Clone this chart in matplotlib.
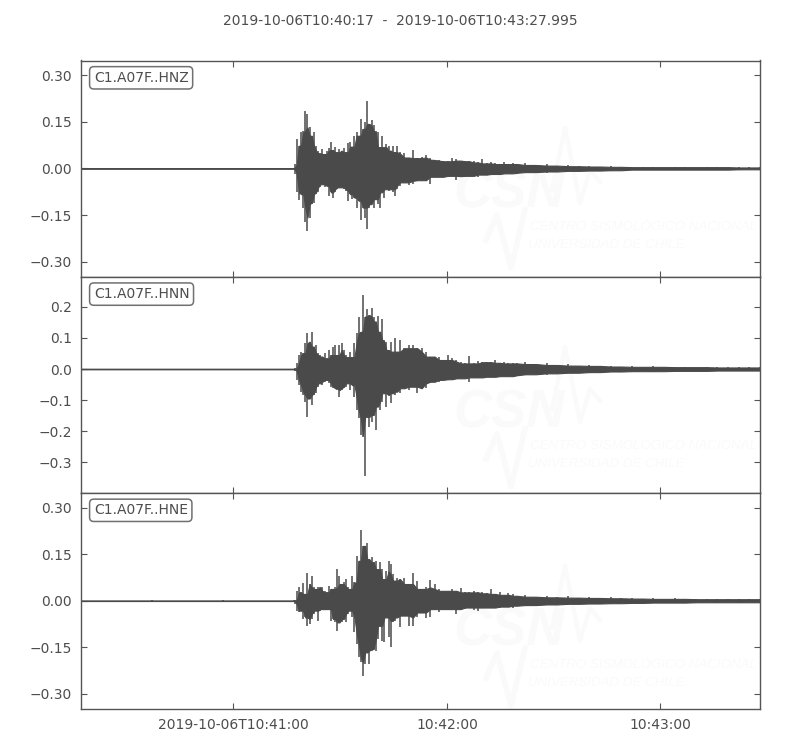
import numpy as np
import matplotlib
matplotlib.use('Agg')
import matplotlib.pyplot as plt

# seconds since 10:40:17, quiet part / strong part / coda / tail
t_pre = [0.0, 20.0, 40.0, 60.0]
t_main = np.arange(49) * 0.6 + 60.2
t_coda = np.arange(28) * 1.22 + 89.8
t_tail = np.arange(23) * 3.0 + 125.0
times = np.concatenate([t_pre, t_main, t_coda, t_tail])

quiet = [0.001, 0.001, 0.001, 0.001]

hnz_up = [.014,.095,.073,.116,.121,.186,.175,.132,.105,.116,.073,.057,.048,.062,.046,.057,.066,.084,.059,.070,.052,.062,.057,.066,.052,.081,.084,.070,.105,.116,.105,.159,.127,.148,.218,.143,.156,.138,.121,.116,.068,.105,.068,.078,.073,.057,.073,.052,.073,
          .052,.048,.035,.059,.033,.038,.044,.035,.028,.027,.025,.023,.033,.029,.025,.025,.023,.023,.019,.030,.016,.019,.016,.014,.019,.014,.016,.014,
          .016,.011,.013,.009,.011,.007,.009,.006,.007,.005,.006,.004,.006,.004,.005,.004,.006,.004,.005,.004,.005,.003,.004]
hnz_low = [.018,.077,.102,.083,.126,.174,.201,.158,.115,.110,.083,.077,.061,.051,.059,.056,.088,.077,.094,.077,.067,.061,.061,.067,.072,.104,.083,.099,.094,.126,.104,.167,.126,.158,.196,.126,.115,.126,.099,.115,.126,.077,.094,.067,.072,.067,.077,.088,.067,
           .056,.045,.053,.051,.040,.038,.042,.051,.027,.027,.029,.027,.024,.038,.029,.025,.024,.024,.027,.020,.020,.020,.018,.018,.018,.016,.016,.018,
           .014,.012,.014,.010,.011,.008,.009,.007,.007,.006,.006,.004,.005,.004,.005,.004,.005,.004,.005,.004,.004,.003,.004]

hnn_up = [.002,.018,.045,.056,.051,.083,.115,.088,.120,.072,.077,.051,.045,.040,.051,.034,.061,.045,.072,.077,.045,.077,.083,.061,.045,.038,.056,.038,.083,.115,.169,.120,.239,.169,.192,.174,.196,.169,.153,.171,.120,.160,.094,.088,.061,.088,.056,.099,.056,
          .094,.067,.077,.077,.067,.067,.056,.040,.040,.040,.029,.045,.034,.029,.024,.018,.042,.018,.026,.024,.022,.024,.029,.020,.024,.018,.018,.018,
          .021,.016,.018,.013,.015,.011,.013,.010,.011,.008,.010,.007,.009,.007,.008,.006,.008,.006,.008,.005,.007,.005,.006]
hnn_low = [.005,.035,.052,.073,.084,.105,.156,.095,.116,.084,.078,.057,.046,.052,.041,.035,.046,.057,.062,.062,.068,.089,.068,.062,.057,.046,.068,.052,.089,.132,.159,.213,.218,.345,.154,.186,.170,.148,.197,.121,.132,.105,.078,.121,.084,.111,.078,.084,.073,
           .078,.062,.068,.057,.078,.062,.062,.046,.041,.041,.035,.035,.033,.033,.030,.030,.041,.027,.030,.028,.027,.025,.027,.025,.023,.023,.023,.023,
           .020,.017,.018,.014,.014,.012,.013,.010,.011,.008,.010,.007,.009,.007,.008,.006,.008,.006,.007,.005,.007,.005,.006]

hne_up = [.002,.032,.043,.027,.056,.022,.088,.054,.081,.043,.038,.043,.043,.045,.032,.027,.048,.038,.038,.043,.102,.081,.054,.059,.070,.045,.038,.081,.059,.145,.129,.228,.177,.177,.188,.134,.140,.124,.129,.102,.124,.102,.070,.095,.129,.118,.086,.065,.075,
          .070,.075,.054,.088,.065,.038,.043,.067,.054,.038,.032,.032,.038,.032,.040,.027,.027,.032,.027,.029,.024,.038,.022,.027,.019,.024,.022,.016,
          .018,.013,.016,.011,.014,.010,.012,.009,.011,.008,.010,.007,.009,.006,.008,.006,.007,.005,.007,.005,.007,.005,.006]
hne_low = [.011,.032,.038,.032,.059,.054,.081,.075,.059,.043,.032,.065,.032,.027,.027,.027,.027,.065,.059,.070,.097,.070,.070,.059,.070,.043,.032,.054,.102,.140,.183,.199,.242,.204,.167,.204,.161,.156,.161,.124,.081,.129,.134,.054,.118,.148,.065,.065,.054,
           .086,.048,.081,.081,.054,.038,.056,.054,.027,.038,.027,.027,.027,.043,.027,.027,.022,.030,.034,.022,.022,.024,.022,.024,.019,.019,.022,.016,
           .017,.014,.015,.012,.013,.010,.012,.009,.010,.008,.009,.007,.008,.006,.008,.006,.007,.005,.007,.005,.006,.005,.006]

channels = ['C1.A07F..HNZ', 'C1.A07F..HNN', 'C1.A07F..HNE']
uppers = [hnz_up, hnn_up, hne_up]
lowers = [hnz_low, hnn_low, hne_low]
ylims = [(-0.349, 0.347), (-0.400, 0.297), (-0.351, 0.348)]
yticks = [[-0.30, -0.15, 0.0, 0.15, 0.30],
          [-0.3, -0.2, -0.1, 0.0, 0.1, 0.2],
          [-0.30, -0.15, 0.0, 0.15, 0.30]]
yfmt = ['%.2f', '%.1f', '%.2f']
xticks = [43, 103, 163]
xlabels = ['2019-10-06T10:41:00', '10:42:00', '10:43:00']

GREY = '#4a4a4a'
TEXT = '#4d4d4d'
MARK = '#fafafa'
W, H = 800.0, 750.0


def watermark(ax, dy):
    def fx(px):
        return px / W

    def fy(py):
        return 1 - (py + dy) / H
    tr = ax.figure.transFigure
    ax.text(fx(453), fy(208), 'CSN', transform=tr, color=MARK, fontsize=38,
            fontweight='bold', fontstyle='italic', zorder=0, family='Liberation Sans')
    ax.plot([fx(p) for p in (552, 565, 580, 590, 600)],
            [fy(p) for p in (190, 128, 203, 170, 182)], transform=tr,
            color=MARK, lw=3, zorder=0)
    ax.plot([fx(p) for p in (486, 497, 511, 525)],
            [fy(p) for p in (240, 215, 268, 210)], transform=tr,
            color=MARK, lw=4, zorder=0)
    ax.text(fx(530), fy(230), 'CENTRO SISMOLÓGICO NACIONAL', transform=tr,
            color=MARK, fontsize=9.6, fontstyle='italic', family='Liberation Sans', zorder=0)
    ax.text(fx(528), fy(248), 'UNIVERSIDAD DE CHILE', transform=tr,
            color=MARK, fontsize=9.6, fontstyle='italic', family='Liberation Sans', zorder=0)


def core(a):
    # solid body of the trace: lower of the neighbouring envelope samples
    left = np.concatenate([a[:1], a[:-1]])
    right = np.concatenate([a[1:], a[-1:]])
    return np.minimum(a, np.minimum(left, right))


fig = plt.figure(figsize=(8, 7.5), dpi=100)
tops = [60.5, 276.8, 493]
for i in range(3):
    top = tops[i]
    ax = fig.add_axes([80.5 / W, 1 - (top + 216.4) / H, 679.5 / W, 216.4 / H])
    up = np.concatenate([quiet, uppers[i]])
    low = np.concatenate([quiet, lowers[i]])
    ax.fill_between(times, -core(low), core(up), color=GREY, lw=0.8, zorder=2)
    ax.vlines(times, -low, up, color=GREY, lw=1.1, zorder=2)
    ax.set_xlim(0, 190.995)
    ax.set_ylim(*ylims[i])
    ax.set_yticks(yticks[i])
    ax.set_yticklabels([(yfmt[i] % v).replace('-', '\u2212') for v in yticks[i]])
    ax.set_xticks(xticks)
    if i == 2:
        ax.set_xticklabels(xlabels)
    else:
        ax.set_xticklabels([])
    ax.tick_params(direction='in', length=4, width=0.8, color='#555555',
                   labelcolor=TEXT, labelsize=10, top=True, right=True, pad=6)
    for s in ax.spines.values():
        s.set_color('#555555')
        s.set_linewidth(1.0)
    ax.text(0.0195, 0.92, channels[i], transform=ax.transAxes, fontsize=10,
            color=TEXT, va='center', ha='left', zorder=5,
            bbox=dict(boxstyle='round,pad=0.3', fc='white', ec='#707070', lw=1.1))
    watermark(ax, 219 * i)

fig.text(0.5, 1 - 21 / H, '2019-10-06T10:40:17  -  2019-10-06T10:43:27.995',
         ha='center', va='center', fontsize=10, color=TEXT)
fig.savefig('out.png', dpi=100)
